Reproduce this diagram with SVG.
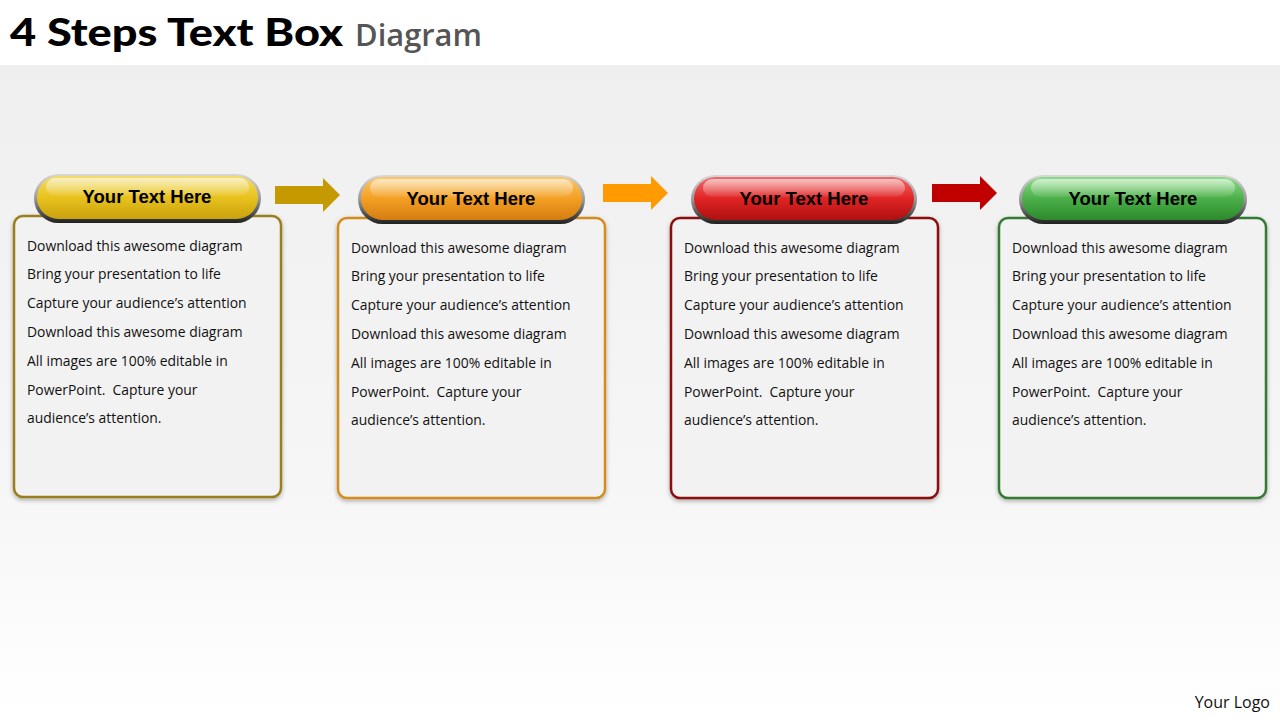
<svg xmlns="http://www.w3.org/2000/svg" width="1280" height="720" viewBox="0 0 1280 720">
<defs>
<linearGradient id="bg" x1="0" y1="0" x2="0" y2="1">
<stop offset="0" stop-color="#efefef"/>
<stop offset="0.65" stop-color="#f6f6f6"/>
<stop offset="1" stop-color="#ffffff"/>
</linearGradient>
<linearGradient id="ring" x1="0" y1="0" x2="0" y2="1">
<stop offset="0" stop-color="#d8d8d8"/>
<stop offset="0.5" stop-color="#9a9a9a"/>
<stop offset="1" stop-color="#202020"/>
</linearGradient>
<linearGradient id="gY" x1="0" y1="0" x2="0" y2="1">
<stop offset="0" stop-color="#f3dc6a"/>
<stop offset="0.5" stop-color="#e8c21c"/>
<stop offset="1" stop-color="#c9a210"/>
</linearGradient>
<linearGradient id="gO" x1="0" y1="0" x2="0" y2="1">
<stop offset="0" stop-color="#fbc66a"/>
<stop offset="0.5" stop-color="#f3a024"/>
<stop offset="1" stop-color="#d57c10"/>
</linearGradient>
<linearGradient id="gR" x1="0" y1="0" x2="0" y2="1">
<stop offset="0" stop-color="#f26a6a"/>
<stop offset="0.5" stop-color="#e02424"/>
<stop offset="1" stop-color="#b01010"/>
</linearGradient>
<linearGradient id="gG" x1="0" y1="0" x2="0" y2="1">
<stop offset="0" stop-color="#8ddc8a"/>
<stop offset="0.5" stop-color="#4cb04a"/>
<stop offset="1" stop-color="#2c8a2c"/>
</linearGradient>
<linearGradient id="hl" x1="0" y1="0" x2="0" y2="1">
<stop offset="0" stop-color="#ffffff" stop-opacity="0.6"/>
<stop offset="1" stop-color="#ffffff" stop-opacity="0.05"/>
</linearGradient>
<filter id="sh" x="-10%" y="-10%" width="120%" height="120%">
<feDropShadow dx="0" dy="2" stdDeviation="2" flood-color="#000" flood-opacity="0.3"/>
</filter>
<style>
.box{fill:#f2f2f2;stroke-width:2.5;filter:url(#sh)}
.ring{fill:url(#ring)}
.ptxt{font-family:"Liberation Sans",Arial,sans-serif;font-weight:bold;font-size:18.5px;fill:#000;text-anchor:middle}
.body{font-family:"Open Sans","Noto Sans",sans-serif;font-size:13.9px;fill:#111;white-space:pre}
.hl{fill:url(#hl)}
</style>
</defs>
<rect x="0" y="0" width="1280" height="720" fill="#ffffff"/>
<rect x="0" y="65" width="1280" height="655" fill="url(#bg)"/>
<g id="title">
<text x="10" y="46" font-family="Lato,'DejaVu Sans',sans-serif" font-weight="900" font-size="37" fill="#000" textLength="333" lengthAdjust="spacingAndGlyphs">4 Steps Text Box</text>
<text x="355" y="46" font-family="'Open Sans','Noto Sans',sans-serif" font-weight="600" font-size="31" fill="#555" textLength="127" lengthAdjust="spacingAndGlyphs">Diagram</text>
</g>
<g id="connectors">
<polygon points="275,186 323,186 323,178 340,195 323,212 323,204 275,204" fill="#c49a00"/>
<polygon points="603,184 651,184 651,176 668,193 651,210 651,202 603,202" fill="#ff9a00"/>
<polygon points="932,184 980,184 980,176 997,193 980,210 980,202 932,202" fill="#c00000"/>
</g>
<g id="step1">
<rect class="box" x="14" y="216" width="267" height="281" rx="9" stroke="#9a7e1c"/>
<rect class="ring" x="34" y="174" width="227" height="49" rx="24.5"/>
<rect x="37" y="176" width="221" height="43" rx="21.5" fill="url(#gY)"/>
<rect class="hl" x="46" y="178" width="203" height="18" rx="9"/>
<text class="ptxt" x="147" y="203">Your Text Here</text>
<g class="body">
<text x="27" y="251">Download this awesome diagram</text>
<text x="27" y="279">Bring your presentation to life</text>
<text x="27" y="308">Capture your audience’s attention</text>
<text x="27" y="337">Download this awesome diagram</text>
<text x="27" y="366">All images are 100% editable in</text>
<text x="27" y="395" xml:space="preserve">PowerPoint.  Capture your</text>
<text x="27" y="423">audience’s attention.</text>
</g>
</g>
<g id="step2">
<rect class="box" x="338" y="218" width="267" height="280" rx="9" stroke="#d48c1e"/>
<rect class="ring" x="358" y="175" width="227" height="49" rx="24.5"/>
<rect x="361" y="177" width="221" height="43" rx="21.5" fill="url(#gO)"/>
<rect class="hl" x="370" y="179" width="203" height="18" rx="9"/>
<text class="ptxt" x="471" y="205">Your Text Here</text>
<g class="body">
<text x="351" y="253">Download this awesome diagram</text>
<text x="351" y="281">Bring your presentation to life</text>
<text x="351" y="310">Capture your audience’s attention</text>
<text x="351" y="339">Download this awesome diagram</text>
<text x="351" y="368">All images are 100% editable in</text>
<text x="351" y="397" xml:space="preserve">PowerPoint.  Capture your</text>
<text x="351" y="425">audience’s attention.</text>
</g>
</g>
<g id="step3">
<rect class="box" x="671" y="218" width="267" height="280" rx="9" stroke="#8c1010"/>
<rect class="ring" x="691" y="175" width="226" height="49" rx="24.5"/>
<rect x="694" y="177" width="220" height="43" rx="21.5" fill="url(#gR)"/>
<rect class="hl" x="703" y="179" width="202" height="18" rx="9"/>
<text class="ptxt" x="804" y="205">Your Text Here</text>
<g class="body">
<text x="684" y="253">Download this awesome diagram</text>
<text x="684" y="281">Bring your presentation to life</text>
<text x="684" y="310">Capture your audience’s attention</text>
<text x="684" y="339">Download this awesome diagram</text>
<text x="684" y="368">All images are 100% editable in</text>
<text x="684" y="397" xml:space="preserve">PowerPoint.  Capture your</text>
<text x="684" y="425">audience’s attention.</text>
</g>
</g>
<g id="step4">
<rect class="box" x="999" y="218" width="267" height="280" rx="9" stroke="#347a30"/>
<rect class="ring" x="1019" y="175" width="228" height="49" rx="24.5"/>
<rect x="1022" y="177" width="222" height="43" rx="21.5" fill="url(#gG)"/>
<rect class="hl" x="1031" y="179" width="204" height="18" rx="9"/>
<text class="ptxt" x="1133" y="205">Your Text Here</text>
<g class="body">
<text x="1012" y="253">Download this awesome diagram</text>
<text x="1012" y="281">Bring your presentation to life</text>
<text x="1012" y="310">Capture your audience’s attention</text>
<text x="1012" y="339">Download this awesome diagram</text>
<text x="1012" y="368">All images are 100% editable in</text>
<text x="1012" y="397" xml:space="preserve">PowerPoint.  Capture your</text>
<text x="1012" y="425">audience’s attention.</text>
</g>
</g>
<g id="logo">
<text x="1270" y="708" text-anchor="end" font-family="'Open Sans','Noto Sans',sans-serif" font-size="16" fill="#111">Your Logo</text>
</g>
</svg>
